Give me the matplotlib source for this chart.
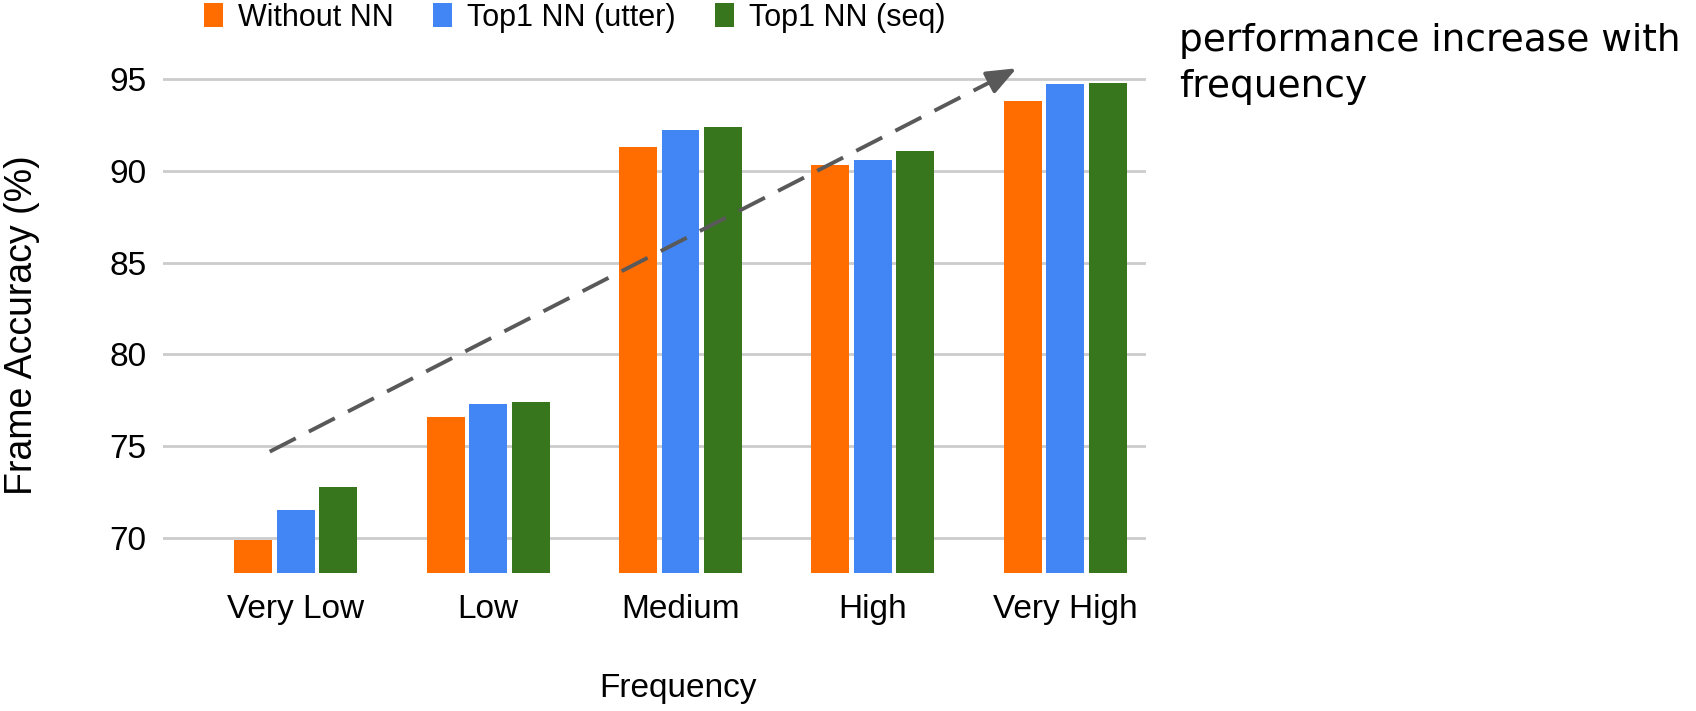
import matplotlib
matplotlib.use("Agg")
import matplotlib.pyplot as plt
import numpy as np


#Chart data
categories = ['Very Low', 'Low', 'Medium', 'High', 'Very High']
without_nn = [69.9, 76.6, 91.3, 90.3, 93.8]
top1_utter = [71.5, 77.3, 92.2, 90.6, 94.7]
top1_seq = [72.8, 77.4, 92.4, 91.1, 94.8]

series_names = ['Without NN', 'Top1 NN (utter)', 'Top1 NN (seq)']
colors = ['#FF6D01', '#4285F4', '#38761D']
yticks = [70, 75, 80, 85, 90, 95]


plt.rcParams['font.family'] = ['Liberation Sans', 'DejaVu Sans']

fig = plt.figure(figsize=(16.96, 7.11), dpi=100)
ax = fig.add_axes([0.0961, 0.1941, 0.5796, 0.7207])

x = np.arange(len(categories))
step = 0.221
width = 0.197

for i, (vals, name, c) in enumerate(zip([without_nn, top1_utter, top1_seq], series_names, colors)):
    ax.bar(x + (i - 1) * step, vals, width, color=c, label=name, zorder=3)

ax.set_xlim(-0.69, 4.42)
ax.set_ylim(68.09, 96)
ax.set_yticks(yticks)
ax.set_xticks(x)
ax.set_xticklabels(categories)
ax.tick_params(axis='both', length=0, labelsize=24)
ax.tick_params(axis='y', pad=12)
ax.tick_params(axis='x', pad=15)
ax.grid(axis='y', color='#CCCCCC', linewidth=2, zorder=0)
for s in ax.spines.values():
    s.set_visible(False)

#Dashed trend arrow
start = (-0.135, 74.7)
end = (3.76, 95.65)
ax.plot([start[0], end[0] - 0.09], [start[1], end[1] - 0.5], color='#595959',
        linewidth=2.8, linestyle=(0, (7.5, 3.8)), zorder=4)
ax.annotate('', xy=end, xytext=(end[0] - 0.1, end[1] - 0.55),
            arrowprops=dict(arrowstyle='-|>,head_length=1.0,head_width=0.4',
                            color='#595959', lw=2.8, mutation_scale=18),
            zorder=5, annotation_clip=False)

#Labels
fig.text(0.013, 0.543, 'Frame Accuracy (%)', rotation=90, ha='center', va='center', fontsize=27)
fig.text(0.400, 0.031, 'Frequency', ha='center', va='center', fontsize=24)

fig.text(0.695, 0.942, 'performance increase with', ha='left', va='center',
         fontsize=27, family='DejaVu Sans')
fig.text(0.695, 0.878, 'frequency', ha='left', va='center',
         fontsize=27, family='DejaVu Sans')

fig.legend(loc='center', bbox_to_anchor=(0.339, 0.975), ncol=3, frameon=False,
           fontsize=22, handlelength=0.6, handleheight=0.8, handletextpad=0.5,
           columnspacing=1.3)

plt.savefig('out.png', dpi=100)
